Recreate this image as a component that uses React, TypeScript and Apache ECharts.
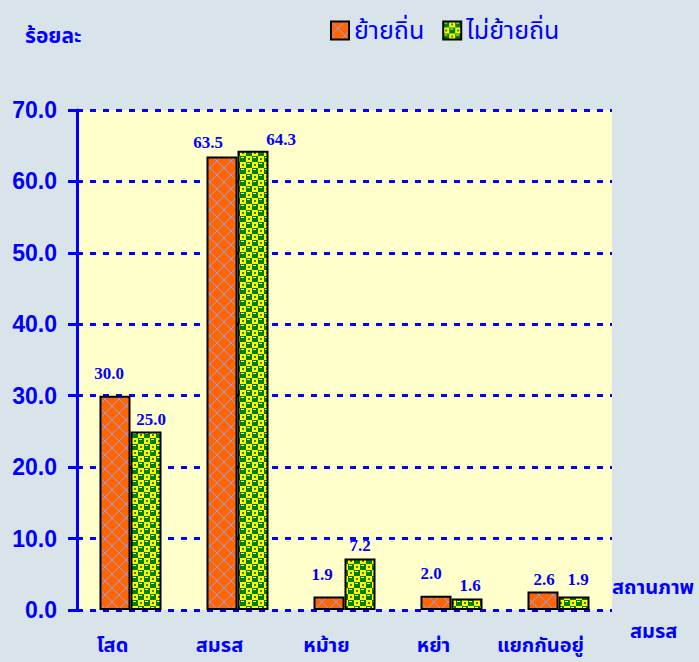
import React, { useEffect, useRef } from "react";
import * as echarts from "echarts";

const categories = ["โสด", "สมรส", "หม้าย", "หย่า", "แยกกันอยู่"];
const seriesNames = ["ย้ายถิ่น", "ไม่ย้ายถิ่น"];
const migrated = [30.0, 63.5, 1.9, 2.0, 2.6];
const notMigrated = [25.0, 64.3, 7.2, 1.6, 1.9];
const yTicks = { min: 0, max: 70, interval: 10 };

// label nudges (style only), [dx, dy]
const labelNudgeA = [[-6, -9], [-14, 0], [-7, -8], [-5, -9], [1, 2]];
const labelNudgeB = [[5, 2], [28, 2], [0, 0], [3, 0], [4, -3]];

const BLUE = "#0000ff";
const BG = "#d9e4ea";

function makeOrangePattern(): HTMLCanvasElement {
  const c = document.createElement("canvas");
  c.width = 14;
  c.height = 14;
  const g = c.getContext("2d")!;
  g.fillStyle = "#ff6600";
  g.fillRect(0, 0, 14, 14);
  g.strokeStyle = "#9a9af2";
  g.lineWidth = 1;
  g.beginPath();
  g.moveTo(0, 14);
  g.lineTo(14, 0);
  g.moveTo(0, 0);
  g.lineTo(14, 14);
  g.stroke();
  return c;
}

function makeGreenPattern(): HTMLCanvasElement {
  const c = document.createElement("canvas");
  c.width = 12;
  c.height = 12;
  const g = c.getContext("2d")!;
  g.fillStyle = "#ffff00";
  g.fillRect(0, 0, 12, 12);
  g.fillStyle = "#008000";
  g.fillRect(0, 0, 6, 6);
  g.fillRect(6, 6, 6, 6);
  g.fillStyle = "#ffff66";
  g.fillRect(1, 1, 3, 1);
  g.fillRect(7, 7, 3, 1);
  g.fillStyle = "#2e8b00";
  g.fillRect(8, 2, 2, 2);
  g.fillRect(2, 8, 2, 2);
  return c;
}

export default function App() {
  const ref = useRef<HTMLDivElement>(null);
  useEffect(() => {
    document.body.style.margin = "0";
    document.body.style.background = BG;
    const chart = echarts.init(ref.current!, undefined, { renderer: "svg" });
    const orange = makeOrangePattern();
    const green = makeGreenPattern();
    const thaiFont = "'Noto Sans Thai', 'Loma', 'Garuda', 'DejaVu Sans', sans-serif";

    const mkData = (vals: number[], nudges: number[][]) =>
      vals.map((v, i) => ({
        value: v,
        label: { offset: nudges[i] },
      }));

    const labelCfg = {
      show: true,
      position: "top",
      distance: 5,
      color: BLUE,
      fontFamily: "'Liberation Serif', 'Times New Roman', serif",
      fontWeight: "bold",
      fontSize: 17,
      formatter: (p: any) => Number(p.value).toFixed(1),
    };

    chart.setOption({
      animation: false,
      backgroundColor: BG,
      grid: {
        left: 77,
        right: 87,
        top: 110,
        bottom: 52,
        show: true,
        backgroundColor: "#ffffcc",
        borderWidth: 0,
      },
      legend: {
        left: 330,
        top: 18,
        padding: 0,
        itemWidth: 18,
        itemHeight: 18,
        itemGap: 18,
        icon: "rect",
        textStyle: {
          color: BLUE,
          fontSize: 25,
          fontFamily: thaiFont,
        },
        data: seriesNames,
      },
      xAxis: {
        type: "category",
        data: categories,
        axisLine: { show: false },
        axisTick: { show: false },
        axisLabel: {
          interval: 0,
          hideOverlap: false,
          color: BLUE,
          fontSize: 20,
          fontWeight: "bold",
          fontFamily: thaiFont,
          margin: 26,
          padding: [0, 36, 0, 0],
        },
      },
      yAxis: {
        type: "value",
        min: yTicks.min,
        max: yTicks.max,
        interval: yTicks.interval,
        axisLine: { show: true, lineStyle: { color: BLUE, width: 3 } },
        axisTick: { show: true, length: 9, lineStyle: { color: BLUE, width: 3 } },
        axisLabel: {
          color: BLUE,
          fontSize: 23,
          fontWeight: "bold",
          fontFamily: "'Liberation Sans', Arial, sans-serif",
          margin: 20,
          formatter: (v: number) => v.toFixed(1),
        },
        splitLine: {
          show: true,
          lineStyle: { color: BLUE, width: 3, type: [6, 7] },
        },
      },
      series: [
        {
          name: seriesNames[0],
          type: "bar",
          data: mkData(migrated, labelNudgeA),
          barWidth: 31,
          barGap: "0%",
          itemStyle: {
            color: { image: orange, repeat: "repeat" },
            borderColor: "#000",
            borderWidth: 2,
          },
          label: labelCfg,
        },
        {
          name: seriesNames[1],
          type: "bar",
          data: mkData(notMigrated, labelNudgeB),
          barWidth: 31,
          barGap: "0%",
          itemStyle: {
            color: { image: green, repeat: "repeat" },
            borderColor: "#000",
            borderWidth: 2,
          },
          label: labelCfg,
        },
      ],
      graphic: [
        {
          type: "text",
          left: 25,
          top: 26,
          style: {
            text: "ร้อยละ",
            fill: BLUE,
            fontSize: 21,
            fontWeight: "bold",
            fontFamily: thaiFont,
          },
        },
        {
          type: "text",
          left: 612,
          top: 578,
          style: {
            text: "สถานภาพ",
            fill: BLUE,
            fontSize: 20,
            fontWeight: "bold",
            fontFamily: thaiFont,
          },
        },
        {
          type: "text",
          left: 630,
          top: 622,
          style: {
            text: "สมรส",
            fill: BLUE,
            fontSize: 20,
            fontWeight: "bold",
            fontFamily: thaiFont,
          },
        },
      ],
    });
    return () => chart.dispose();
  }, []);
  return <div ref={ref} style={{ width: 699, height: 662 }} />;
}
